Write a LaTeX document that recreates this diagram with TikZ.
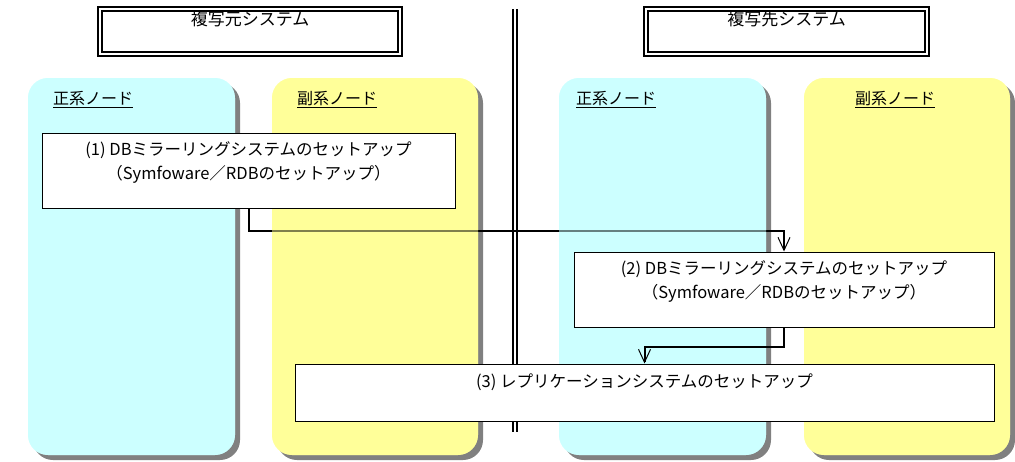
\documentclass[tikz,border=0pt]{standalone}
\usepackage{fontspec}
\setmainfont{Noto Sans CJK JP}
\usetikzlibrary{arrows.meta,positioning}
\definecolor{laneblue}{HTML}{CCFFFF}
\definecolor{laneyellow}{HTML}{FFFF99}
\definecolor{laneshadow}{HTML}{808080}
\pgfdeclarelayer{bg}
\pgfsetlayers{bg,main}

\begin{document}
\begin{tikzpicture}[x=1pt,y=-1pt,
   sysbox/.style={draw,double,line width=2pt,double distance=2pt,minimum width=#1,minimum height=45pt,inner sep=0pt},
   systitle/.style={inner sep=0pt,font=\fontsize{17}{20}\selectfont},
   lanelabel/.style={anchor=base west,inner sep=0pt,font=\fontsize{16}{20}\selectfont},
   stepbox/.style={draw,fill=white,line width=1pt,inner sep=0pt},
   steptext/.style={align=center,inner sep=0pt,font=\fontsize{16.5}{24}\selectfont},
   conn/.style={line width=2pt,-{Straight Barb[length=13pt,width=12pt,line width=1pt]}}]
   % Picture size
   \useasboundingbox (0,0) rectangle (1015,461);
   % System title boxes
   \node[sysbox=300pt] (srcsys) at (250,31.5) {};
   \node[systitle,below=3pt of srcsys.north] (srcsystext) {複写元システム};
   \node[sysbox=281pt] (dstsys) at (786.5,31.5) {};
   \node[systitle,below=3pt of dstsys.north] (dstsystext) {複写先システム};
   % Lane labels
   \node[lanelabel] (srcmain) at (53,104.5) {\underline{正系ノード}};
   \node[lanelabel] (srcsub) at (297,104.5) {\underline{副系ノード}};
   \node[lanelabel] (dstmain) at (576,104.5) {\underline{正系ノード}};
   \node[lanelabel] (dstsub) at (855,104.5) {\underline{副系ノード}};
   % Setup steps
   \node[stepbox,minimum width=413pt,minimum height=75pt] (setup1) at (248.5,170.5) {};
   \node[steptext,below=9pt of setup1.north] (setup1text) {(1) DBミラーリングシステムのセットアップ\\（Symfoware／RDBのセットアップ）};
   \node[stepbox,minimum width=420pt,minimum height=75pt] (setup2) at (784,289.5) {};
   \node[steptext,below=9pt of setup2.north] (setup2text) {(2) DBミラーリングシステムのセットアップ\\（Symfoware／RDBのセットアップ）};
   \node[stepbox,minimum width=699pt,minimum height=57pt] (setup3) at (644.5,392.5) {};
   \node[steptext,below=10pt of setup3.north] (setup3text) {(3) レプリケーションシステムのセットアップ};
   \draw[conn] (setup2.south) -- ++(0,19) -| (setup3.north);
   \begin{pgfonlayer}{bg}
      % Lanes with shadow
      \foreach \xa/\xb/\col in {28/235/laneblue,272/478/laneyellow,559/766/laneblue,804/1010/laneyellow} {
         \fill[laneshadow,rounded corners=20pt] (\xa+5,83) rectangle (\xb+5,460);
         \fill[\col,rounded corners=20pt] (\xa,78) rectangle (\xb,455);
      }
      % System separator
      \draw[double,line width=2pt,double distance=2pt] (515,9) -- (515,432);
      \draw[conn] (setup1.south) -- ++(0,22) -| (setup2.north);
      % Lanes again, half see-through over the connector
      \foreach \xa/\xb/\col in {28/235/laneblue,272/478/laneyellow,559/766/laneblue,804/1010/laneyellow}
         \fill[\col,fill opacity=0.5,rounded corners=20pt] (\xa,78) rectangle (\xb,455);
   \end{pgfonlayer}
\end{tikzpicture}
\end{document}
